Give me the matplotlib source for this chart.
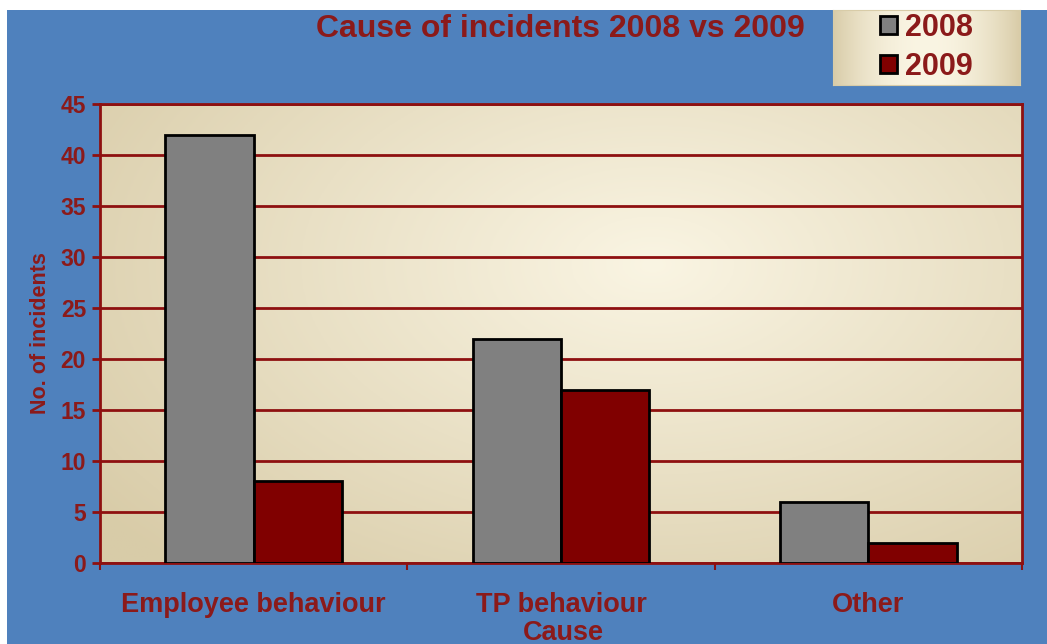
import matplotlib
matplotlib.use('Agg')
import matplotlib.pyplot as plt
import numpy as np
from matplotlib.patches import Rectangle

categories = ['Employee behaviour', 'TP behaviour', 'Other']
series_names = ['2008', '2009']
values_2008 = [42, 22, 6]
values_2009 = [8, 17, 2]
yticks = [0, 5, 10, 15, 20, 25, 30, 35, 40, 45]

DARK_RED = '#8b1a1a'
GRID_RED = '#8e1010'
BLUE = '#4f81bd'

plt.rcParams['font.family'] = ['Liberation Sans', 'DejaVu Sans']

fig = plt.figure(figsize=(10.47, 6.44), dpi=100, facecolor='white')
fig.patches.append(Rectangle((7 / 1047, 0), 1, 634 / 644, transform=fig.transFigure,
                             facecolor=BLUE, edgecolor='none', zorder=-10))

ax = fig.add_axes([100 / 1047, 1 - 563 / 644, 922 / 1047, 459 / 644])
ax.set_zorder(2)

# radial beige gradient for the plot area
gx, gy = np.meshgrid(np.linspace(0, 1, 300), np.linspace(0, 1, 200))
r = np.sqrt(((gx - 0.6) / 0.75) ** 2 + ((gy - 0.65) / 0.9) ** 2)
r = np.clip(r, 0, 1)
c_in = np.array([0.98, 0.96, 0.89])
c_out = np.array([0.85, 0.80, 0.66])
img = c_in[None, None, :] * (1 - r[..., None]) + c_out[None, None, :] * r[..., None]
ax.imshow(img, extent=[0, 1, 0, 1], transform=ax.transAxes, aspect='auto', zorder=0, origin='lower')

x = np.arange(len(categories))
w = 0.287
ax.bar(x - w / 2, values_2008, w, color='#808080', edgecolor='black', linewidth=2, zorder=3, label=series_names[0])
ax.bar(x + w / 2, values_2009, w, color='#800000', edgecolor='black', linewidth=2, zorder=3, label=series_names[1])

ax.set_xlim(-0.5, 2.5)
ax.set_ylim(0, 45)
ax.set_yticks(yticks)
ax.yaxis.grid(True, color=GRID_RED, linewidth=2, zorder=1)
ax.set_axisbelow(True)

ax.set_xticks(x)
ax.set_xticklabels(categories, fontsize=19.5, fontweight='bold', color=DARK_RED)
ax.set_xticks([-0.5, 0.5, 1.5, 2.5], minor=True)
ax.tick_params(axis='x', which='major', length=0, pad=21)
ax.tick_params(axis='x', which='minor', length=5, width=1.5, color=GRID_RED)
ax.tick_params(axis='y', length=6, width=2, color=GRID_RED, labelsize=16.5, labelcolor=DARK_RED, pad=4)
for lab in ax.get_yticklabels():
    lab.set_fontweight('bold')

for s in ax.spines.values():
    s.set_color(GRID_RED)
    s.set_linewidth(2)

ax.set_ylabel('No. of incidents', fontsize=15.5, fontweight='bold', color=DARK_RED, labelpad=7)
fig.text(563 / 1047, 1 - 633 / 644, 'Cause', ha='center', va='center', fontsize=19.5, fontweight='bold',
         color=DARK_RED)

fig.text(560 / 1047, 1 - 29 / 644, 'Cause of incidents 2008 vs 2009', ha='center', va='center',
         fontsize=23, fontweight='bold', color=DARK_RED)

# legend box with its own beige background
lax = fig.add_axes([833 / 1047, 1 - 85 / 644, 187 / 1047, 75 / 644])
lax.set_zorder(3)
lg = np.linspace(0, 1, 200)
lr = np.abs(lg - 0.5) * 2
limg = (c_in[None, None, :] * (1 - lr[None, :, None] ** 2) + c_out[None, None, :] * lr[None, :, None] ** 2)
lax.imshow(np.repeat(limg, 10, axis=0), extent=[0, 1, 0, 1], aspect='auto')
lax.set_xticks([])
lax.set_yticks([])
for s in lax.spines.values():
    s.set_color('#d8cca8')
h = [Rectangle((0, 0), 1, 1, facecolor='#808080', edgecolor='black', linewidth=2),
     Rectangle((0, 0), 1, 1, facecolor='#800000', edgecolor='black', linewidth=2)]
leg = lax.legend(h, series_names, loc='center', frameon=False, handlelength=0.55, handleheight=0.55,
                 handletextpad=0.25, labelspacing=0.3, borderpad=0,
                 prop={'weight': 'bold', 'size': 22})
for t in leg.get_texts():
    t.set_color(DARK_RED)

fig.savefig('out.png', dpi=100, facecolor=fig.get_facecolor())
